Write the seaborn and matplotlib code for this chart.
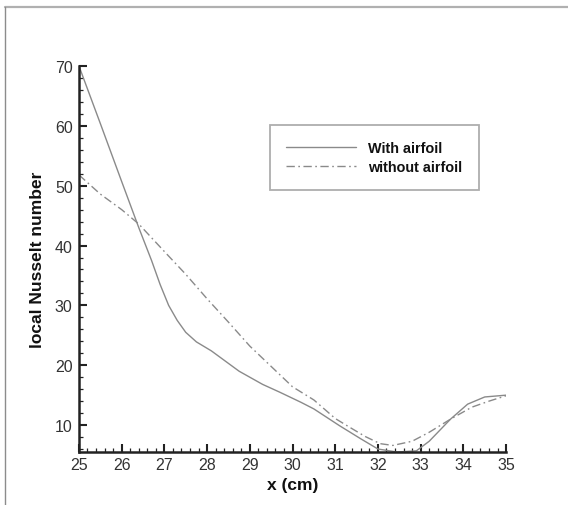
import numpy as np
import pandas as pd
import matplotlib
matplotlib.use("Agg")
import matplotlib.pyplot as plt
from matplotlib.lines import Line2D
from matplotlib.ticker import MultipleLocator
import seaborn as sns

# Local Nusselt number along the wall, with and without the airfoil
x_with = [25.0, 25.5, 26.0, 26.4, 26.7, 26.9, 27.1, 27.3, 27.5, 27.75, 28.1, 28.75,
          29.3, 29.7, 30.2, 30.5, 31.1, 31.6, 32.0, 32.45, 32.9, 33.2, 33.7, 34.1,
          34.5, 35.0]
nu_with = [70.0, 60.4, 50.7, 43.0, 37.5, 33.5, 30.0, 27.5, 25.5, 23.9, 22.4, 19.0,
           16.8, 15.5, 13.8, 12.7, 9.9, 7.7, 6.0, 5.5, 5.7, 7.3, 11.0, 13.5,
           14.7, 15.0]

x_without = [25.0, 25.5, 26.0, 26.4, 27.0, 27.5, 28.0, 28.5, 29.0, 29.5, 30.0, 30.5,
             31.0, 31.3, 31.7, 32.05, 32.35, 32.8, 33.2, 33.7, 34.2, 34.6, 35.0]
nu_without = [51.8, 48.6, 46.0, 43.6, 39.0, 35.2, 31.1, 27.2, 23.2, 19.8, 16.4, 14.2,
              11.1, 9.8, 8.1, 6.9, 6.6, 7.3, 8.8, 11.0, 13.0, 14.0, 14.9]

series_names = ["With airfoil", "without airfoil"]
x_ticks = list(range(25, 36))
y_ticks = list(range(10, 80, 10))

df = pd.concat([
    pd.DataFrame({"x": x_with, "Nu": nu_with, "case": series_names[0]}),
    pd.DataFrame({"x": x_without, "Nu": nu_without, "case": series_names[1]}),
], ignore_index=True)

sns.set_theme(style="white")
plt.rcParams["font.family"] = ["Liberation Sans", "DejaVu Sans"]
plt.rcParams["lines.scale_dashes"] = False

fig = plt.figure(figsize=(5.68, 5.06), dpi=100)
ax = fig.add_axes([0.139, 0.1047, 0.752, 0.7629])

line_grey = "#8a8a8a"
sns.lineplot(
    data=df, x="x", y="Nu", hue="case", style="case",
    palette={series_names[0]: line_grey, series_names[1]: line_grey},
    dashes={series_names[0]: "", series_names[1]: (6, 2.5, 1.2, 2.5)},
    linewidth=1.0, sort=False, estimator=None, ax=ax,
)

ax.set_xlim(25, 35)
ax.set_ylim(5.5, 70)
ax.set_xticks(x_ticks)
ax.set_yticks(y_ticks)
ax.xaxis.set_minor_locator(MultipleLocator(0.2))
ax.yaxis.set_minor_locator(MultipleLocator(2))

for side in ("top", "right"):
    ax.spines[side].set_visible(False)
for side in ("left", "bottom"):
    ax.spines[side].set_linewidth(1.8)
    ax.spines[side].set_color("#222222")

ax.tick_params(which="both", bottom=True, left=True, top=False, right=False)
ax.tick_params(which="major", direction="in", length=5.5, width=1.5,
               color="#222222", labelsize=11.5, labelcolor="#333333", pad=3.5)
ax.tick_params(which="minor", direction="in", length=3, width=0.9, color="#222222")
ax.tick_params(axis="y", which="major", pad=4.5)

ax.set_xlabel("x (cm)", fontsize=12.5, fontweight="bold", color="#111111", labelpad=4)
ax.set_ylabel("local Nusselt number", fontsize=12.5, fontweight="bold",
              color="#111111", labelpad=7)

leg = ax.legend(
    loc="upper left", bbox_to_anchor=(0.447, 0.848), frameon=True, fancybox=False,
    prop={"weight": "bold", "size": 10.4}, borderpad=1.15, handlelength=4.8,
    handletextpad=0.85, labelspacing=0.3, borderaxespad=0,
)
leg.get_frame().set_edgecolor("#999999")
leg.get_frame().set_linewidth(1.3)
for t in leg.get_texts():
    t.set_color("#111111")

# Outer frame edges along the top and left of the figure
fig.add_artist(Line2D([5 / 568, 1.0], [1 - 8 / 506, 1 - 8 / 506],
                      transform=fig.transFigure, color="#b0b0b0", linewidth=1.6))
fig.add_artist(Line2D([5 / 568, 5 / 568], [0.0, 1 - 8 / 506],
                      transform=fig.transFigure, color="#8c8c8c", linewidth=1.0))

fig.savefig("out.png", dpi=100, facecolor="white")
